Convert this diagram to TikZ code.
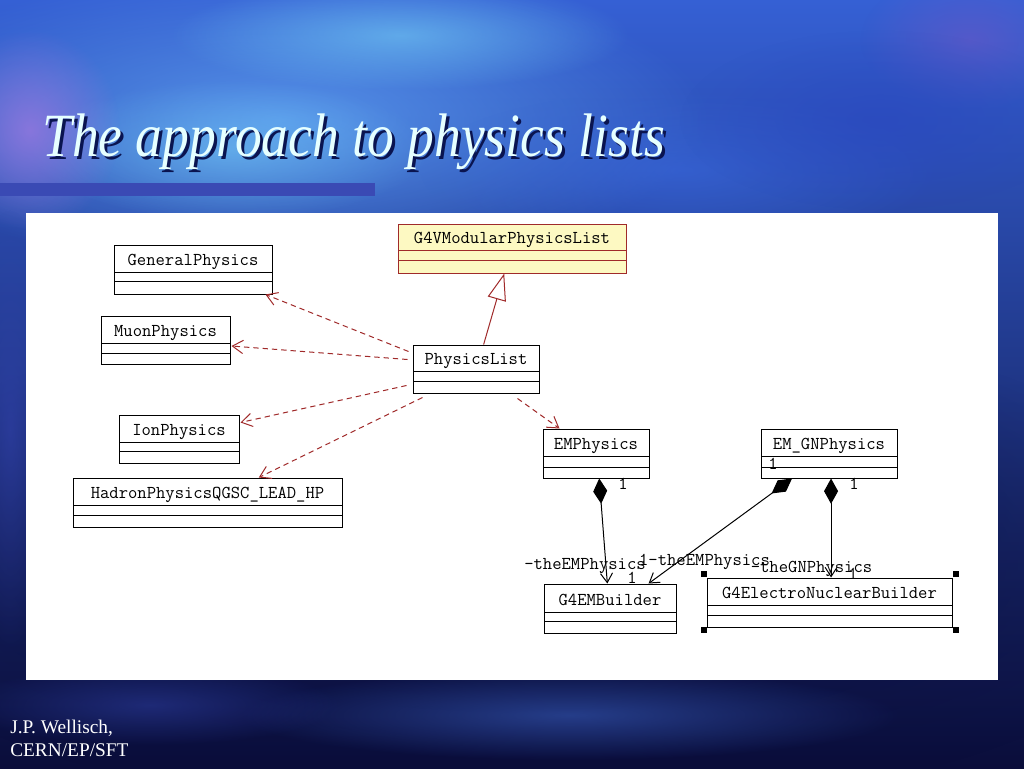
\documentclass[tikz,border=0pt]{standalone}
\usepackage{fontspec}
\usepackage{graphicx}
\newfontfamily\serifit{Liberation Serif}
\usetikzlibrary{arrows.meta,calc,fit,fadings}

\definecolor{navy}{HTML}{0A0D3A}
\definecolor{midblue}{HTML}{1E2E8C}
\definecolor{topblue}{HTML}{3560D4}
\definecolor{barblue}{HTML}{3A4AB4}
\definecolor{depred}{HTML}{A02A2A}
\definecolor{modyellow}{HTML}{FDF9C2}
\definecolor{titlecol}{HTML}{E6FFFF}
\definecolor{titleshadowcol}{HTML}{0A1450}
\definecolor{bgA}{HTML}{5A9AEE}
\definecolor{bgB}{HTML}{7AD8F8}
\definecolor{bgC}{HTML}{9A78E0}
\definecolor{bgD}{HTML}{3A6AE0}
\definecolor{bgE}{HTML}{6A58C8}
\definecolor{bgF}{HTML}{2A48C0}
\definecolor{bgG}{HTML}{3050A8}
\definecolor{bgH}{HTML}{2A3A98}
\definecolor{bgI}{HTML}{3444B0}

\tikzfading[name=softblob, inner color=transparent!0, outer color=transparent!100]

\tikzset{
  blob/.style={path fading=softblob},
  classbox/.style={draw=black, fill=white, line width=0.75pt, inner sep=0pt, rectangle},
  classline/.style={draw=black, line width=0.75pt},
  modular/.style={draw=depred, fill=modyellow},
  plainclass/.style={},
  classname/.style={font=\fontsize{13.6}{15}\selectfont\ttfamily, inner sep=0pt, anchor=base, text=black},
  lbl/.style={font=\fontsize{13.6}{15}\selectfont\ttfamily, inner sep=0pt, anchor=base, text=black},
  dep/.style={draw=depred, line width=0.75pt, dash pattern=on 4pt off 3pt,
    -{Straight Barb[length=8pt, width=10pt]}},
  gen/.style={draw=depred, line width=0.75pt,
    -{Triangle[open, length=20pt, width=14pt, fill=white]}},
  comp/.style={draw=black, line width=0.75pt,
    {Diamond[length=19pt, width=10.5pt]}-{Straight Barb[length=7pt, width=9pt]}},
  handle/.style={fill=black},
}

% name, x1, y1, x2, y2, line1, line2, text, style
\newcommand\umlclass[9]{%
  \node[classbox, #9, fit={(#2,#3) (#4,#5)}] (#1) {};
  \draw[classline, #9] (#2,#6) -- (#4,#6);
  \draw[classline, #9] (#2,#7) -- (#4,#7);
  \node[classname] (#1-name) at ({(#2+#4)/2},{#6-7}) {#8};
}

\begin{document}
\begin{tikzpicture}[x=0.75pt,y=-0.75pt]
\useasboundingbox (0,0) rectangle (1024,768);

% ---------- background ----------
\shade[top color=topblue, middle color=midblue, bottom color=navy] (0,0) rectangle (1024,768);
\fill[navy, blob, opacity=0.8] (512,560) ellipse (700 and 260);
\fill[bgA, blob, opacity=0.9] (280,120) ellipse (430 and 150);
\fill[bgB, blob, opacity=0.55] (400,35) ellipse (230 and 55);
\fill[bgB, blob, opacity=0.45] (230,150) ellipse (200 and 70);
\fill[bgC, blob, opacity=0.8] (30,130) ellipse (90 and 100);
\fill[bgD, blob, opacity=0.6] (680,170) ellipse (260 and 80);
\fill[bgE, blob, opacity=0.6] (970,40) ellipse (110 and 70);
\fill[bgF, blob, opacity=0.7] (880,120) ellipse (200 and 90);
\fill[bgG, blob, opacity=0.7] (570,715) ellipse (330 and 45);
\fill[bgH, blob, opacity=0.6] (150,705) ellipse (190 and 40);
\fill[bgI, blob, opacity=0.6] (10,430) ellipse (45 and 220);

% title bar
\fill[barblue] (0,183) rectangle (375,196);

% title
\node[anchor=base west, inner sep=0pt, text=titleshadowcol] (titleshadow) at (45,159)
  {\resizebox{467pt}{32pt}{\serifit\itshape The approach to physics lists}};
\node[anchor=base west, inner sep=0pt, text=titlecol] (title) at (42,156)
  {\resizebox{467pt}{32pt}{\serifit\itshape The approach to physics lists}};

% footer
\node[anchor=base west, inner sep=0pt, text=white, font=\serifit\fontsize{14.5}{16}\selectfont] (author) at (10,733) {J.P. Wellisch,};
\node[anchor=base west, inner sep=0pt, text=white, font=\serifit\fontsize{14.5}{16}\selectfont] (dept) at (10,756) {CERN/EP/SFT};

% white panel
\fill[white] (26,213) rectangle (998,680);

% ---------- classes ----------
\umlclass{gp}{114}{245}{272}{294}{272}{281}{GeneralPhysics}{plainclass}
\umlclass{muon}{101}{316}{230}{364}{343}{353}{MuonPhysics}{plainclass}
\umlclass{pl}{413}{345}{539}{393}{371}{381}{PhysicsList}{plainclass}
\umlclass{g4v}{398}{224}{626}{273}{250}{260}{G4VModularPhysicsList}{modular}
\umlclass{ion}{119}{415}{239}{463}{442}{451}{IonPhysics}{plainclass}
\umlclass{had}{73}{478}{342}{527}{505}{515}{HadronPhysicsQGSC\_LEAD\_HP}{plainclass}
\umlclass{emp}{543}{429}{649}{478}{456}{467}{EMPhysics}{plainclass}
\umlclass{emgn}{761}{429}{897}{478}{456}{467}{EM\_GNPhysics}{plainclass}
\umlclass{g4em}{544}{584}{676}{633}{612}{621}{G4EMBuilder}{plainclass}
\umlclass{g4enb}{707}{578}{952}{627}{605}{615}{G4ElectroNuclearBuilder}{plainclass}

% selection handles
\fill[handle] (701,571) rectangle (707,577);
\fill[handle] (953,571) rectangle (959,577);
\fill[handle] (701,627) rectangle (707,633);
\fill[handle] (953,627) rectangle (959,633);

% ---------- connectors ----------
\draw[gen] ($(pl.north west)!0.56!(pl.north east)$) -- ($(g4v.south west)!0.466!(g4v.south east)$);

\draw[dep] ($(pl.north west)+(-4,7)$) -- ($(gp.south east)+(-7,0)$);
\draw[dep] ($(pl.north west)+(-5,15)$) -- ($(muon.east)+(1,6)$);
\draw[dep] ($(pl.south west)+(-6,-8)$) -- ($(ion.north east)+(1,8)$);
\draw[dep] ($(pl.south west)+(10,4)$) -- ($(had.north west)!0.69!(had.north east)$);
\draw[dep] ($(pl.south east)+(-22,5)$) -- ($(emp.north west)+(17,0)$);

\draw[comp] ($(emp.south west)!0.53!(emp.south east)$) -- ($(g4em.north west)!0.48!(g4em.north east)$);
\draw[comp] ($(emgn.south west)!0.23!(emgn.south east)$) -- ($(g4em.north west)!0.79!(g4em.north east)$);
\coordinate (gnstart) at ($(emgn.south west)!0.515!(emgn.south east)$);
\draw[comp] (gnstart) -- (gnstart |- g4enb.north);

% ---------- labels ----------
\node[lbl] (m1) at (623,489) {1};
\node[lbl] (m2) at (854,489) {1};
\node[lbl] (m3) at (773,469) {1};
\node[lbl] (r1) at (585,569) {-theEMPhysics};
\node[lbl] (m4) at (632,583) {1};
\node[lbl] (r2) at (704.5,565) {1-theEMPhysics};
\node[lbl] (r3) at (811.5,572) {-theGNPhysics};
\node[lbl] (m5) at (853,579) {1};

\end{tikzpicture}
\end{document}
